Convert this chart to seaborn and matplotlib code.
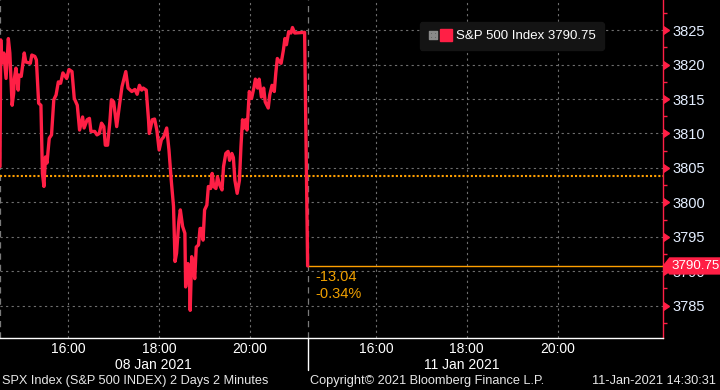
import numpy as np
import pandas as pd
import matplotlib
matplotlib.use("Agg")
import matplotlib.pyplot as plt
import matplotlib.markers as mmarkers
from matplotlib.lines import Line2D
from matplotlib.legend_handler import HandlerTuple
from matplotlib.path import Path
import seaborn as sns

# SPX 2-minute prices, 08 Jan 2021 session (London time)
day1_times = ["14:30", "14:31", "14:32", "14:35", "14:38", "14:40", "14:41", "14:43", "14:46", "14:48",
              "14:49", "14:51", "14:54", "14:55", "14:58", "15:02", "15:04", "15:10", "15:12", "15:16",
              "15:18", "15:21", "15:24", "15:26", "15:28", "15:30", "15:32", "15:35", "15:38", "15:41",
              "15:44", "15:47", "15:50", "15:53", "15:58", "16:01", "16:05", "16:08", "16:12", "16:15",
              "16:19", "16:21", "16:25", "16:28", "16:30", "16:35", "16:38", "16:41", "16:44", "16:47",
              "16:49", "16:52", "16:55", "16:57", "17:00", "17:04", "17:08", "17:11", "17:16", "17:19",
              "17:24", "17:28", "17:31", "17:34", "17:37", "17:39", "17:43", "17:46", "17:47", "17:51",
              "17:54", "17:57", "18:00", "18:03", "18:06", "18:10", "18:13", "18:16", "18:19", "18:21",
              "18:23", "18:26", "18:28", "18:31", "18:34", "18:35", "18:38", "18:40", "18:41", "18:43",
              "18:45", "18:47", "18:49", "18:52", "18:54", "18:56", "18:58", "19:00", "19:03", "19:05",
              "19:08", "19:10", "19:12", "19:15", "19:17", "19:20", "19:23", "19:25", "19:28", "19:31",
              "19:33", "19:36", "19:38", "19:40", "19:43", "19:46", "19:48", "19:50", "19:52", "19:54",
              "19:56", "19:57", "19:59", "20:02", "20:05", "20:07", "20:10", "20:12", "20:15", "20:18",
              "20:20", "20:24", "20:26", "20:29", "20:32", "20:34", "20:36", "20:39", "20:41", "20:44",
              "20:46", "20:48", "20:51", "20:54", "20:56", "20:59", "21:12"]
day1_prices = [3805.2, 3823.6, 3820.2, 3821.7, 3818.0, 3821.7, 3823.8, 3821.7, 3814.1, 3815.8,
               3818.0, 3819.5, 3816.3, 3818.5, 3818.3, 3821.7, 3820.4, 3820.2, 3821.4, 3821.2,
               3820.7, 3814.4, 3814.1, 3804.2, 3802.3, 3806.6, 3805.7, 3809.3, 3809.8, 3814.9,
               3815.6, 3817.5, 3817.3, 3818.8, 3818.0, 3819.3, 3819.0, 3815.1, 3814.1, 3810.5,
               3812.4, 3810.8, 3812.0, 3812.2, 3810.3, 3810.3, 3809.8, 3810.0, 3811.5, 3811.0,
               3808.3, 3808.3, 3811.7, 3814.9, 3814.6, 3811.0, 3814.4, 3816.8, 3819.0, 3816.6,
               3816.1, 3816.4, 3815.7, 3817.0, 3816.3, 3816.6, 3816.3, 3812.0, 3810.0, 3812.0,
               3812.1, 3810.5, 3807.6, 3809.1, 3809.5, 3810.8, 3807.6, 3803.2, 3799.4, 3791.4,
               3792.6, 3797.2, 3798.9, 3796.5, 3795.5, 3787.7, 3791.1, 3788.7, 3784.3, 3792.1,
               3790.6, 3788.9, 3793.5, 3793.8, 3796.2, 3796.2, 3794.5, 3798.9, 3799.6, 3802.3,
               3802.0, 3804.2, 3802.3, 3802.0, 3803.7, 3802.5, 3801.8, 3805.2, 3807.1, 3807.4,
               3806.1, 3807.1, 3806.5, 3803.2, 3801.3, 3803.2, 3808.1, 3812.0, 3810.8, 3812.0,
               3810.5, 3812.2, 3816.1, 3815.1, 3816.6, 3817.9, 3816.6, 3817.9, 3815.3, 3816.6,
               3814.6, 3813.7, 3815.6, 3817.0, 3816.1, 3818.8, 3820.9, 3820.4, 3820.2, 3822.1,
               3823.8, 3822.9, 3824.8, 3824.6, 3825.4, 3824.6, 3824.7]
# 11 Jan 2021 session so far
day2_times = ["14:30"]
day2_prices = [3790.75]
prev_close = 3803.79

y_ticks = [3785, 3790, 3795, 3800, 3805, 3810, 3815, 3820, 3825]
hour_labels = ["16:00", "18:00", "20:00"]
day_labels = ["08 Jan 2021", "11 Jan 2021"]
day1_hours = [15, 16, 17, 18, 19, 20]
day2_hours = [15, 16, 17, 18, 19, 20, 21]

RED = "#ff1f45"
ORANGE = "#ff9f00"
OPEN = 14 * 60 + 30
SESSION = 406      # axis minutes per day slot
X_END = 875


def to_x(t, day):
    h, m = map(int, t.split(":"))
    return h * 60 + m - OPEN + day * SESSION


df = pd.DataFrame({
    "x": [to_x(t, 0) for t in day1_times] + [to_x(t, 1) for t in day2_times],
    "price": day1_prices + day2_prices,
})
last = day2_prices[-1]
chg = last - prev_close
pct = chg / prev_close * 100

sns.set_style("dark", {"axes.facecolor": "black", "figure.facecolor": "black"})
plt.rcParams["font.family"] = ["Liberation Sans", "DejaVu Sans"]

fig = plt.figure(figsize=(7.2, 3.9), dpi=100)
ax = fig.add_axes([0, 52 / 390, 663 / 720, 338 / 390])
ax.set_facecolor("black")

sns.lineplot(data=df, x="x", y="price", color=RED, lw=2.4, estimator=None, ax=ax, legend=False, zorder=4)

ax.set_xlim(0, X_END)
ax.set_ylim(3780.28, 3829.4)

# reference lines
ax.axhline(prev_close, color=ORANGE, lw=1.5, ls=(0, (1, 1)), zorder=3)
ax.hlines(last, to_x(day2_times[-1], 1), X_END, color=ORANGE, lw=1.0, zorder=3)
for d in range(2):
    ax.axvline(d * SESSION, color="#7a7a7a", lw=0.9, ls=(0, (5, 4)), zorder=1)
ax.axvline(SESSION, ymin=-0.095, ymax=0, color="white", lw=1, clip_on=False)

# y axis on the right
ax.yaxis.tick_right()
ax.set_yticks(y_ticks)
ax.set_yticks(list(np.array(y_ticks) - 2.5) + [y_ticks[-1] + 2.5], minor=True)
ax.tick_params(axis="y", which="major", length=0, pad=7, labelsize=10.5, labelcolor="#e4eeff")
ax.tick_params(axis="y", which="minor", right=True, length=3, width=1, color=RED)
ax.plot([1] * len(y_ticks), y_ticks, transform=ax.get_yaxis_transform(), ls="",
        marker=mmarkers.CARETRIGHTBASE, ms=6, color=RED, clip_on=False, zorder=5)

# x axis: hours per session
major = [to_x(h, d) for d in range(2) for h in hour_labels]
minor = [to_x(f"{h}:00", 0) for h in day1_hours] + [to_x(f"{h}:00", 1) for h in day2_hours]
ax.set_xticks(major)
ax.set_xticklabels(hour_labels * 2)
ax.set_xticks(minor, minor=True)
ax.tick_params(axis="x", which="both", length=3, width=1, color="white", pad=0,
               labelsize=10, labelcolor="white")
ax.set_xlabel("")
ax.set_ylabel("")
for d, lab in enumerate(day_labels):
    ax.text(d * SESSION + SESSION / 2, -0.08, lab, transform=ax.get_xaxis_transform(),
            ha="center", va="center", color="white", fontsize=10)

ax.grid(True, which="major", color="#6e6e6e", lw=0.8, ls=(0, (2, 3)))
for s in ["top", "left"]:
    ax.spines[s].set_visible(False)
ax.spines["right"].set_color(RED)
ax.spines["right"].set_linewidth(1)
ax.spines["bottom"].set_color("white")
ax.spines["bottom"].set_linewidth(1)

# change annotation
ax.annotate(f"{chg:.2f}\n{pct:.2f}%", xy=(to_x(day2_times[-1], 1), last), xytext=(8, -4),
            textcoords="offset pixels", ha="left", va="top", color="#f0a000",
            fontsize=10.5, linespacing=1.25)


def price_tag(x0, y0, width, height, mutation_size):
    pad = mutation_size * 0.2
    x0, y0 = x0 - pad, y0 - pad
    x1, y1 = x0 + width + 2 * pad, y0 + height + 2 * pad
    ym = (y0 + y1) / 2
    tip = (y1 - y0) / 2.5
    return Path([(x0, y0), (x1 + 20, y0), (x1 + 20, y1), (x0, y1), (x0 - tip, ym), (x0, y0)],
                closed=True)


ax.annotate(f"{last:.2f}", xy=(1, last), xycoords=ax.get_yaxis_transform(), xytext=(9, 0),
            textcoords="offset pixels", ha="left", va="center", color="white", fontsize=9.6,
            bbox=dict(boxstyle=price_tag, fc=RED, ec="none"), annotation_clip=False, zorder=6)

# legend
h_icon = Line2D([], [], ls="", marker=r"$\boxplus$", color="#8a8a8a", ms=6)
h_sq = Line2D([], [], ls="", marker="s", color=RED, ms=8.5)
leg = ax.legend([(h_icon, h_sq)], [f"S&P 500 Index {last:.2f}"],
                handler_map={tuple: HandlerTuple(ndivide=None, pad=0.3)},
                loc="upper left", bbox_to_anchor=(0.633, 0.935), borderaxespad=0,
                facecolor="#141414", edgecolor="#141414", framealpha=1, fancybox=True,
                fontsize=9.5, labelcolor="white", handlelength=1.8, handletextpad=0.35,
                borderpad=0.6)

# footer
footer_kw = dict(color="#e8e8e8", fontsize=9.2, va="center")
fig.text(2 / 720, 9 / 390, "SPX Index (S&P 500 INDEX) 2 Days 2 Minutes", ha="left", **footer_kw)
fig.text(310 / 720, 9 / 390, "Copyright\u00a9 2021 Bloomberg Finance L.P.", ha="left", **footer_kw)
fig.text(716 / 720, 9 / 390, "11-Jan-2021 14:30:31", ha="right", **footer_kw)

fig.savefig("out.png", dpi=100, facecolor="black")
